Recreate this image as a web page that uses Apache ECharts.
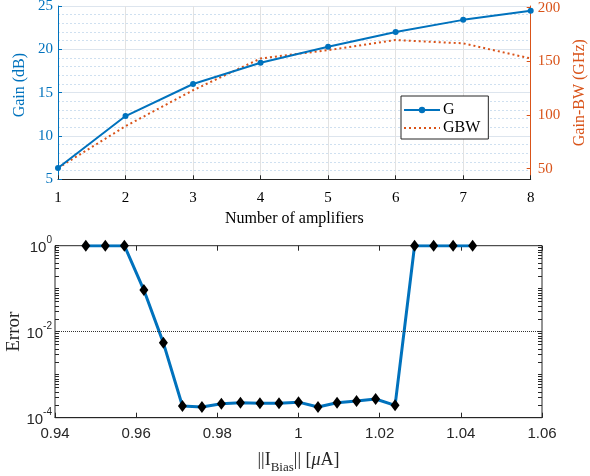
<!DOCTYPE html>
<html>
<head>
<meta charset="utf-8">
<script src="https://cdn.jsdelivr.net/npm/echarts@6/dist/echarts.min.js"></script>
<style>html,body{margin:0;padding:0;background:#fff}#c{width:590px;height:476px}</style>
</head>
<body>
<div id="c"></div>
<script>
// ---- Top chart data ----
const amplifiers = [1, 2, 3, 4, 5, 6, 7, 8];
const gainDB = [6.3, 12.3, 16.0, 18.45, 20.3, 22.0, 23.4, 24.45];
const gbwGHz = [50.5, 89.5, 123, 152.6, 160.4, 169.8, 166.7, 152.6];
const gainTicks = [5, 10, 15, 20, 25];
const gbwTicks = [50, 100, 150, 200];

// ---- Bottom chart data ----
const iBias = [0.9476, 0.9524, 0.9571, 0.9619, 0.9667, 0.9714, 0.9762, 0.9810, 0.9857, 0.9905, 0.9952,
               1.0000, 1.0048, 1.0095, 1.0143, 1.0190, 1.0238, 1.0286, 1.0333, 1.0381, 1.0429];
const errorVals = [1, 1, 1, 0.093, 0.0055, 1.87e-4, 1.78e-4, 2.12e-4, 2.23e-4, 2.16e-4, 2.16e-4,
                   2.3e-4, 1.78e-4, 2.23e-4, 2.44e-4, 2.72e-4, 1.94e-4, 1, 1, 1, 1];
const errorLabelTicks = [1e-4, 1e-2, 1];
const errorGridLine = 1e-2;

const BLUE = '#0072BD', ORANGE = '#D95319', DARK = '#262626';
const SERIF = '"Liberation Serif", "Times New Roman", serif';
const SANS = '"Liberation Sans", Arial, sans-serif';

// log minor ticks 1..9 x 10^e (raw values) and their exponents (for the right-hand helper axis)
const logMinor = [], logMinorExp = [];
for (let e = -4; e < 0; e++) for (let m = 1; m <= 9; m++) {
  logMinor.push(+(m * Math.pow(10, e)).toPrecision(6));
  logMinorExp.push(+(e + Math.log10(m)).toFixed(6));
}
logMinor.push(1); logMinorExp.push(0);

const TICK_IN = {inside: false, length: -4};

const chart = echarts.init(document.getElementById('c'), null, {renderer: 'canvas'});
chart.setOption({
  animation: false,
  backgroundColor: '#fff',
  legend: {
    data: ['G', {name: 'GBW', itemStyle: {opacity: 0}}],
    orient: 'vertical',
    left: 401, top: 96,
    padding: [6, 8, 3, 2],
    itemWidth: 36, itemHeight: 8, itemGap: 2,
    backgroundColor: '#fff',
    borderColor: DARK, borderWidth: 1,
    textStyle: {fontFamily: SERIF, fontSize: 16, color: '#000', padding: [0, 0, 0, -2]}
  },
  grid: [
    {left: 58, right: 59.3, top: 6, bottom: 296.7, containLabel: false, outerBoundsMode: 'none'},
    {left: 55, right: 48, top: 245.7, bottom: 58.3, containLabel: false, outerBoundsMode: 'none',
     show: true, borderColor: DARK, borderWidth: 1}
  ],
  xAxis: [
    {
      gridIndex: 0, type: 'value', min: 1, max: 8, interval: 1,
      name: 'Number of amplifiers', nameLocation: 'middle', nameGap: 31, nameMoveOverlap: false,
      nameTextStyle: {fontFamily: SERIF, fontSize: 16, color: '#000'},
      axisLine: {lineStyle: {color: DARK, width: 1}},
      axisTick: Object.assign({lineStyle: {color: DARK}}, TICK_IN),
      axisLabel: {fontFamily: SERIF, fontSize: 15, color: '#000', margin: 11},
      splitLine: {show: true, lineStyle: {color: '#e2e2e2', width: 1}}
    },
    {
      gridIndex: 1, type: 'value', min: 0.94, max: 1.06, interval: 0.02,
      name: '||I{sub|Bias}|| [{it|μ}A]', nameLocation: 'middle', nameGap: 30, nameMoveOverlap: false,
      nameTextStyle: {
        fontFamily: SERIF, fontSize: 18, color: DARK,
        rich: {
          sub: {fontFamily: SERIF, fontSize: 13, color: DARK, verticalAlign: 'bottom', lineHeight: 26, padding: [8, 0, 0, 0]},
          it: {fontFamily: SERIF, fontSize: 18, fontStyle: 'italic', color: DARK}
        }
      },
      axisLine: {show: true, onZero: false, lineStyle: {color: DARK}},
      axisTick: {inside: false, length: -5, lineStyle: {color: DARK}},
      axisLabel: {fontFamily: SANS, fontSize: 15, color: DARK, margin: 9,
        formatter: v => String(Math.round(v * 100) / 100)},
      splitLine: {show: false}
    },
    {
      gridIndex: 1, type: 'value', position: 'top', min: 0.94, max: 1.06, interval: 0.02,
      axisLine: {show: false, onZero: false},
      axisTick: {inside: false, length: -5, lineStyle: {color: DARK}},
      axisLabel: {show: false},
      splitLine: {show: false}
    }
  ],
  yAxis: [
    {
      gridIndex: 0, type: 'value', min: 5, max: 25, interval: 5, position: 'left',
      name: 'Gain (dB)', nameLocation: 'middle', nameGap: 30, nameMoveOverlap: false,
      nameTextStyle: {fontFamily: SERIF, fontSize: 16, color: BLUE, padding: [0, 0, 0, 15]},
      axisLine: {show: true, lineStyle: {color: BLUE, width: 1}},
      axisTick: Object.assign({show: true, lineStyle: {color: BLUE}}, TICK_IN),
      axisLabel: {fontFamily: SERIF, fontSize: 15, color: BLUE, margin: 5},
      splitLine: {show: true, lineStyle: {color: '#dde5ee', width: 1}},
      minorTick: {show: false, splitNumber: 5},
      minorSplitLine: {show: true, lineStyle: {color: '#cfe0f0', width: 1, type: [2, 2]}}
    },
    {
      gridIndex: 0, type: 'value', min: 40, max: 201.5, position: 'right',
      name: 'Gain-BW (GHz)', nameLocation: 'middle', nameGap: 41, nameMoveOverlap: false,
      nameTextStyle: {fontFamily: SERIF, fontSize: 16, color: ORANGE},
      axisLine: {show: true, lineStyle: {color: ORANGE, width: 1}},
      axisTick: Object.assign({show: true, lineStyle: {color: ORANGE}, customValues: gbwTicks}, TICK_IN),
      axisLabel: {fontFamily: SERIF, fontSize: 15, color: ORANGE, margin: 7, customValues: gbwTicks},
      splitLine: {show: false}
    },
    {
      gridIndex: 1, type: 'log', logBase: 10, min: 1e-4, max: 1, interval: 2, position: 'left',
      name: 'Error', nameLocation: 'middle', nameGap: 31, nameMoveOverlap: false,
      nameTextStyle: {fontFamily: SERIF, fontSize: 19, color: DARK},
      axisLine: {show: false},
      axisTick: {show: true, inside: false, length: -4, lineStyle: {color: DARK}, customValues: logMinor},
      axisLabel: {
        margin: 3,
        customValues: errorLabelTicks,
        formatter: v => '{b|10}{s|' + Math.round(Math.log10(v)) + '}',
        rich: {
          b: {fontFamily: SANS, fontSize: 15, color: DARK, verticalAlign: 'bottom', lineHeight: 20},
          s: {fontFamily: SANS, fontSize: 10, color: DARK, verticalAlign: 'top', lineHeight: 20}
        }
      },
      splitLine: {show: false}
    },
    {
      gridIndex: 1, type: 'value', min: -4, max: 0, position: 'right',
      axisLine: {show: false, onZero: false},
      axisTick: {show: true, inside: false, length: -4, lineStyle: {color: DARK}, customValues: logMinorExp},
      axisLabel: {show: false},
      splitLine: {show: false}
    }
  ],
  series: [
    {
      name: 'G', type: 'line', xAxisIndex: 0, yAxisIndex: 0,
      data: amplifiers.map((a, i) => [a, gainDB[i]]),
      symbol: 'circle', symbolSize: 6,
      itemStyle: {color: BLUE},
      lineStyle: {color: BLUE, width: 2},
      z: 3
    },
    {
      name: 'GBW', type: 'line', xAxisIndex: 0, yAxisIndex: 1,
      data: amplifiers.map((a, i) => [a, gbwGHz[i]]),
      symbol: 'none', showSymbol: false,
      itemStyle: {color: ORANGE},
      lineStyle: {color: ORANGE, width: 2, type: [2, 3]},
      z: 2
    },
    {
      name: 'Error', type: 'line', xAxisIndex: 1, yAxisIndex: 2,
      data: iBias.map((x, i) => [x, errorVals[i]]),
      symbol: 'diamond', symbolSize: [9, 12],
      itemStyle: {color: '#000'},
      lineStyle: {color: BLUE, width: 3},
      markLine: {
        silent: true, symbol: 'none', label: {show: false},
        lineStyle: {color: '#333', width: 1, type: 'dotted'},
        data: [{yAxis: errorGridLine}]
      },
      z: 3
    }
  ]
});
</script>
</body>
</html>
